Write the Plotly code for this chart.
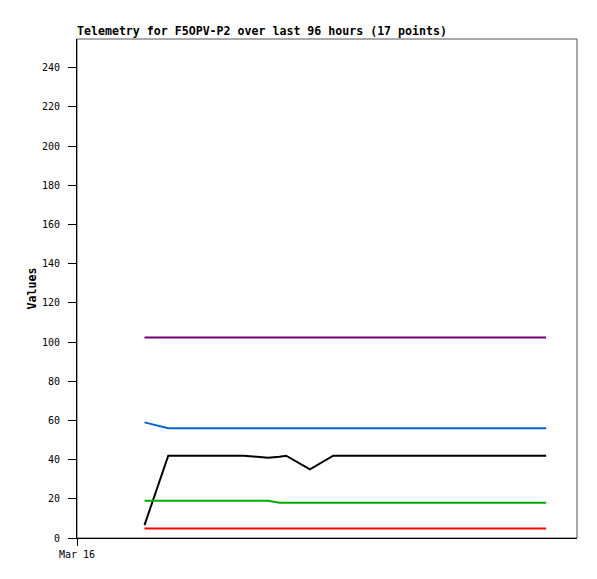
import plotly.graph_objects as go
import pandas as pd

# Hours after Mar 16 00:00 for the 17 telemetry points
hours = [16.2, 21.9, 40.1, 43.0, 45.8, 48.6, 50.2, 55.9, 61.5,
         67.5, 73.5, 79.5, 85.5, 91.5, 97.5, 103.5, 112.6]
base = pd.Timestamp("2024-03-16 00:00")
times = [base + pd.Timedelta(hours=h) for h in hours]

purple_vals = [102.3] * 17
blue_vals = [59.0, 56.0] + [56.0] * 15
black_vals = [6.6, 42.0, 42.0, 41.5, 41.0, 41.5, 42.0, 35.0, 42.0] + [42.0] * 8
green_vals = [19.0] * 5 + [18.0] * 12
red_vals = [4.8] * 17

series = [
    ("purple", purple_vals, "#700070"),
    ("blue", blue_vals, "#0066cc"),
    ("black", black_vals, "#000000"),
    ("green", green_vals, "#00aa00"),
    ("red", red_vals, "#ff0000"),
]

title_text = "Telemetry for F5OPV-P2 over last 96 hours (17 points)"
y_title = "Values"
x_tick_label = "Mar 16"

fig = go.Figure()
for name, vals, col in series:
    fig.add_trace(go.Scatter(x=times, y=vals, mode="lines", name=name,
                             line=dict(color=col, width=2)))

font_mono = "DejaVu Sans Mono, Liberation Mono, monospace"

fig.update_layout(
    width=589, height=571,
    margin=dict(l=69, r=20, t=31, b=41),
    paper_bgcolor="white", plot_bgcolor="white",
    showlegend=False,
    font=dict(family=font_mono, size=10, color="black"),
    xaxis=dict(
        range=[base, base + pd.Timedelta(hours=120)],
        showgrid=False, zeroline=False,
        showline=True, linecolor="black", linewidth=1,
        ticks="outside", ticklen=7, tickcolor="black",
        tickvals=[base], ticktext=[x_tick_label],
        tickfont=dict(family=font_mono, size=10),
    ),
    yaxis=dict(
        range=[0, 254.6],
        showgrid=False, zeroline=False,
        showline=True, linecolor="black", linewidth=1,
        ticks="outside", ticklen=8, tickcolor="black",
        dtick=20, tick0=0,
        ticklabelstandoff=6,
        tickfont=dict(family=font_mono, size=10),
        title=dict(text="<b>" + y_title + "</b>", font=dict(family=font_mono, size=11.6),
                   standoff=2),
    ),
    shapes=[dict(type="rect", xref="paper", yref="paper", x0=0, x1=1, y0=0, y1=1,
                 line=dict(color="#555555", width=1), layer="below")],
    annotations=[dict(text="<b>" + title_text + "</b>", xref="paper", yref="paper",
                      x=0, y=1, xanchor="left", yanchor="bottom", xshift=-2, yshift=-1,
                      showarrow=False, font=dict(family=font_mono, size=11.6, color="black"))],
)

fig.write_html("out.html")
